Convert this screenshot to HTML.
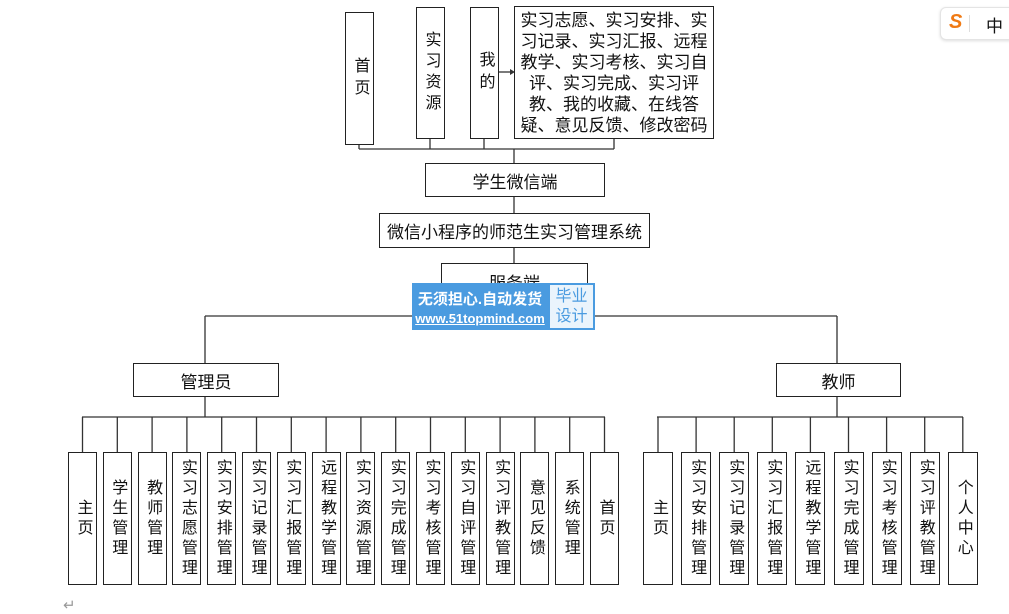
<!DOCTYPE html>
<html><head><meta charset="utf-8"><style>
body{margin:0;width:1009px;height:614px;background:#fff;position:relative;overflow:hidden;font-family:"Liberation Sans","Noto Sans CJK SC",sans-serif;color:#111}
.b{position:absolute;border:1.3px solid #222;box-sizing:border-box;background:#fff;display:flex;align-items:center;justify-content:center;text-align:center;font-size:16px}
.v{writing-mode:vertical-rl;text-orientation:upright;line-height:1;letter-spacing:4px;font-size:16px}
svg{position:absolute;left:0;top:0}
</style></head><body>
<svg width="1009" height="614"><g stroke="#333" stroke-width="1.3" fill="none">
<line x1="359" y1="145" x2="359" y2="149"/><line x1="430" y1="139" x2="430" y2="149"/><line x1="484" y1="139" x2="484" y2="149"/><line x1="614" y1="139" x2="614" y2="149"/>
<line x1="359" y1="149" x2="614" y2="149"/>
<line x1="514" y1="149" x2="514" y2="163"/><line x1="514" y1="196" x2="514" y2="213"/><line x1="514" y1="248" x2="514" y2="263"/>
<line x1="498" y1="72" x2="510" y2="72"/>
<line x1="205" y1="316" x2="837" y2="316"/>
<line x1="205" y1="316" x2="205" y2="363"/><line x1="837" y1="316" x2="837" y2="363"/>
<line x1="205" y1="396" x2="205" y2="417"/><line x1="837" y1="396" x2="837" y2="417"/>
<line x1="82" y1="417" x2="605" y2="417"/><line x1="657" y1="417" x2="963" y2="417"/>
<g id="s"></g>
</g><polygon points="510,69 515,72 510,75" fill="#333"/></svg>
<div class="b v" style="left:345px;top:12px;width:29px;height:133px;letter-spacing:6px">首页</div>
<div class="b v" style="left:416px;top:7px;width:29px;height:132px;letter-spacing:5px">实习资源</div>
<div class="b v" style="left:470px;top:7px;width:29px;height:132px;letter-spacing:6px">我的</div>
<div class="b" style="left:514px;top:6px;width:200px;height:133px;font-size:17px;line-height:21px;white-space:nowrap">实习志愿、实习安排、实<br>习记录、实习汇报、远程<br>教学、实习考核、实习自<br>评、实习完成、实习评<br>教、我的收藏、在线答<br>疑、意见反馈、修改密码</div>
<div class="b" style="left:425px;top:163px;width:180px;height:34px;font-size:17px">学生微信端</div>
<div class="b" style="left:379px;top:213px;width:271px;height:35px;font-size:17px">微信小程序的师范生实习管理系统</div>
<div class="b" style="left:441px;top:263px;width:147px;height:40px;align-items:flex-start;padding-top:5px;font-size:17px">服务端</div>
<div style="position:absolute;left:412px;top:283px;width:136px;height:47px;background:#4a9be0;color:#fff;font-weight:bold">
<div style="font-size:15px;text-align:center;margin-top:5px">无须担心.自动发货</div>
<div style="font-size:13px;text-align:center;margin-top:2px;text-decoration:underline">www.51topmind.com</div></div>
<div style="position:absolute;left:548px;top:283px;width:47px;height:47px;background:#eaf4fc;border:2px solid #4a9be0;box-sizing:border-box;color:#4a9be0;font-size:16px;line-height:20px;text-align:center;padding-top:2px">毕业<br>设计</div>
<div class="b" style="left:133px;top:363px;width:146px;height:34px;font-size:17px">管理员</div>
<div class="b" style="left:776px;top:363px;width:125px;height:34px;font-size:17px">教师</div>
<div id="a"></div>
<div style="position:absolute;left:940px;top:7px;width:75px;height:31px;border:1px solid #e4e4e4;border-radius:6px;box-shadow:0 1px 3px #ddd;background:#fff"><span style="position:absolute;left:8px;top:3px;color:#f07a14;font-weight:bold;font-size:20px;font-style:italic">S</span><span style="position:absolute;left:28px;top:7px;width:1px;height:17px;background:#ddd"></span><span style="position:absolute;left:45px;top:4px;font-size:17px">中</span></div>
<div style="position:absolute;left:63px;top:596px;color:#999;font-size:15px">↵</div>
<script>
var A=["主页","学生管理","教师管理","实习志愿管理","实习安排管理","实习记录管理","实习汇报管理","远程教学管理","实习资源管理","实习完成管理","实习考核管理","实习自评管理","实习评教管理","意见反馈","系统管理","首页"];
var T=["主页","实习安排管理","实习记录管理","实习汇报管理","远程教学管理","实习完成管理","实习考核管理","实习评教管理","个人中心"];
var h="",s="";
A.forEach(function(t,i){var x=68+i*34.8;h+='<div class="b v" style="left:'+x+'px;top:452px;width:29px;height:133px">'+t+'</div>';s+='<line x1="'+(x+14.5)+'" y1="417" x2="'+(x+14.5)+'" y2="452"/>';});
T.forEach(function(t,i){var x=643+i*38.1;h+='<div class="b v" style="left:'+x+'px;top:452px;width:30px;height:133px">'+t+'</div>';s+='<line x1="'+(x+15)+'" y1="417" x2="'+(x+15)+'" y2="452"/>';});
document.getElementById("a").innerHTML=h;
document.getElementById("s").innerHTML=s;
</script>
</body></html>
